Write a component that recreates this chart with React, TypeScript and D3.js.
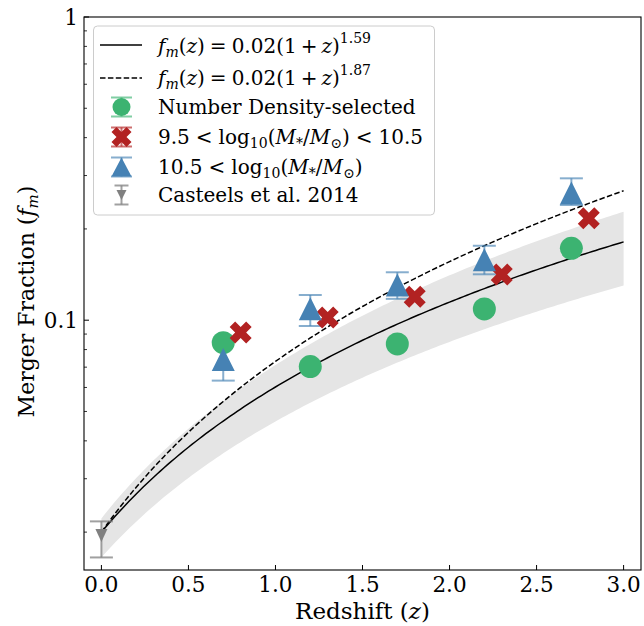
import React from "react";
import * as d3 from "d3";

// ---------- data ----------
const xTickValues = [0, 0.5, 1, 1.5, 2, 2.5, 3];
const yMajorTicks = [0.1, 1];
const yMinorTicks = [0.02, 0.03, 0.04, 0.05, 0.06, 0.07, 0.08, 0.09, 0.2, 0.3, 0.4, 0.5, 0.6, 0.7, 0.8, 0.9];

const fitNorm = 0.02;
const fitSlopeSolid = 1.59;
const fitSlopeDashed = 1.87;
// shaded uncertainty band edges (norm, slope)
const bandLowNorm = 0.0165;
const bandLowSlope = 1.49;
const bandHighNorm = 0.0222;
const bandHighSlope = 1.68;

const zNumberDensity = [0.7, 1.2, 1.7, 2.2, 2.7];
const fNumberDensity = [0.0843, 0.0703, 0.0835, 0.1089, 0.1726];

const zLowMass = [0.8, 1.3, 1.8, 2.3, 2.8];
const fLowMass = [0.091, 0.102, 0.1196, 0.1415, 0.2168];

const zHighMass = [0.7, 1.2, 1.7, 2.2, 2.7];
const fHighMass = [0.0742, 0.109, 0.1306, 0.1583, 0.2627];
const errHighMassLow = [0.011, 0.0133, 0.013, 0.0166, 0.0228];
const errHighMassUp = [0.011, 0.0121, 0.0133, 0.0177, 0.031];

const zCasteels = [0];
const fCasteels = [0.0195];
const errCasteelsLow = [0.003];
const errCasteelsUp = [0.0022];

// ---------- layout ----------
const W = 644;
const H = 626;
const L = 84, R = 641, T = 17, B = 570;

const GREEN = "#3cb371";
const RED = "#b22222";
const BLUE = "#4682b4";
const GRAY = "#808080";
const FONT = "'DejaVu Serif', serif";

const x = d3.scaleLinear().domain([-0.1, 3.1]).range([L, R]);
const y = d3.scaleLog().domain([0.015, 1]).range([B, T]);

const zGrid = d3.range(0, 3.0001, 0.02);

function trianglePath(cx: number, cy: number, w: number, h: number, down = false) {
  const s = down ? -1 : 1;
  return `M${cx},${cy - (s * h) / 2}L${cx - w / 2},${cy + (s * h) / 2}L${cx + w / 2},${cy + (s * h) / 2}Z`;
}
function xPath(cx: number, cy: number, ms: number) {
  const k = ms / 4;
  const pts = [[-1, -2], [0, -1], [1, -2], [2, -1], [1, 0], [2, 1], [1, 2], [0, 1], [-1, 2], [-2, 1], [-1, 0], [-2, -1]];
  return "M" + pts.map(([a, b]) => `${cx + a * k},${cy + b * k}`).join("L") + "Z";
}

function ErrBar({ cx, y0, y1, cap, color, opacity, sw }: any) {
  return (
    <g stroke={color} strokeOpacity={opacity} strokeWidth={sw} fill="none">
      <line x1={cx} x2={cx} y1={y0} y2={y1} />
      <line x1={cx - cap / 2} x2={cx + cap / 2} y1={y0} y2={y0} />
      <line x1={cx - cap / 2} x2={cx + cap / 2} y1={y1} y2={y1} />
    </g>
  );
}

function FitLabel({ xx, yy, fs, sub, slope }: any) {
  return (
    <text x={xx} y={yy} fontSize={fs}>
      <tspan fontStyle="italic">f</tspan>
      <tspan fontStyle="italic" fontSize={sub} dy={4}>m</tspan>
      <tspan dy={-4}>(</tspan>
      <tspan fontStyle="italic">z</tspan>
      <tspan>)</tspan>
      <tspan dx={5}>=</tspan>
      <tspan dx={5}>0.02(1</tspan>
      <tspan dx={4}>+</tspan>
      <tspan dx={4} fontStyle="italic">z</tspan>
      <tspan>)</tspan>
      <tspan fontSize={sub} dy={-10}>{slope}</tspan>
    </text>
  );
}

function MassLabel({ xx, yy, fs, sub, lo, hi }: any) {
  return (
    <text x={xx} y={yy} fontSize={fs}>
      <tspan>{lo}</tspan>
      <tspan dx={6}>&lt;</tspan>
      <tspan dx={6}>log</tspan>
      <tspan fontSize={sub} dy={4}>10</tspan>
      <tspan dy={-4}>(</tspan>
      <tspan fontStyle="italic">M</tspan>
      <tspan fontSize={sub} dy={4}>*</tspan>
      <tspan dy={-4}>/</tspan>
      <tspan fontStyle="italic">M</tspan>
      <tspan fontSize={sub} dy={4}>⊙</tspan>
      <tspan dy={-4}>)</tspan>
      {hi ? <tspan dx={6}>&lt;</tspan> : null}
      {hi ? <tspan dx={6}>{hi}</tspan> : null}
    </text>
  );
}

export default function App() {
  const line = d3.line<number>();
  const solid = line(zGrid.map((z) => [x(z), y(fitNorm * Math.pow(1 + z, fitSlopeSolid))] as any) as any);
  const dashed = line(zGrid.map((z) => [x(z), y(fitNorm * Math.pow(1 + z, fitSlopeDashed))] as any) as any);
  const area = d3
    .area<number>()
    .x((z) => x(z))
    .y0((z) => y(bandLowNorm * Math.pow(1 + z, bandLowSlope)))
    .y1((z) => y(bandHighNorm * Math.pow(1 + z, bandHighSlope)))(zGrid);

  const legX = 93.5, legY = 26, legW = 341, legH = 189;
  const hx = 121.5;
  const tx = 158;
  const rowY = [45, 78, 107, 137, 167, 195];
  const fs = 20;
  const sub = 14;
  const tickFs = 21.5;
  const labFs = 23;

  return (
    <svg width={W} height={H} style={{ position: "absolute", left: 0, top: 0 }} fontFamily={FONT}>
      <rect x={0} y={0} width={W} height={H} fill="white" />
      <defs>
        <clipPath id="plotclip">
          <rect x={L} y={T} width={R - L} height={B - T} />
        </clipPath>
      </defs>
      <g clipPath="url(#plotclip)">
        <path d={area || ""} fill="#e5e5e5" />
        <path d={solid || ""} fill="none" stroke="black" strokeWidth={1.5} />
        <path d={dashed || ""} fill="none" stroke="black" strokeWidth={1.5} strokeDasharray="5.5,2.4" />

        {/* error bars (beneath markers) */}
        {zHighMass.map((z, i) => (
          <ErrBar key={"eb" + i} cx={x(z)} y0={y(fHighMass[i] + errHighMassUp[i])} y1={y(fHighMass[i] - errHighMassLow[i])} cap={23} color={BLUE} opacity={0.65} sw={2} />
        ))}
        {zCasteels.map((z, i) => (
          <ErrBar key={"ec" + i} cx={x(z)} y0={y(fCasteels[i] + errCasteelsUp[i])} y1={y(fCasteels[i] - errCasteelsLow[i])} cap={23} color={GRAY} opacity={0.75} sw={2} />
        ))}

        {zNumberDensity.map((z, i) => (
          <circle key={"nd" + i} cx={x(z)} cy={y(fNumberDensity[i])} r={11.5} fill={GREEN} />
        ))}
        {zLowMass.map((z, i) => (
          <path key={"lm" + i} d={xPath(x(z), y(fLowMass[i]), 22)} fill={RED} />
        ))}
        {zHighMass.map((z, i) => (
          <path key={"hm" + i} d={trianglePath(x(z), y(fHighMass[i]), 23, 23)} fill={BLUE} />
        ))}
        {zCasteels.map((z, i) => (
          <path key={"cs" + i} d={trianglePath(x(z), y(fCasteels[i]), 12, 13, true)} fill={GRAY} />
        ))}
      </g>

      {/* frame */}
      <rect x={L} y={T} width={R - L} height={B - T} fill="none" stroke="black" strokeWidth={1.1} />

      {/* x ticks */}
      {xTickValues.map((v) => (
        <g key={"xt" + v}>
          <line x1={x(v)} x2={x(v)} y1={B} y2={B - 5} stroke="black" strokeWidth={1} />
          <text x={x(v)} y={592} fontSize={tickFs} textAnchor="middle">{d3.format(".1f")(v)}</text>
        </g>
      ))}
      {/* y ticks */}
      {yMajorTicks.map((v) => (
        <g key={"yt" + v}>
          <line x1={L} x2={L + 5} y1={y(v)} y2={y(v)} stroke="black" strokeWidth={1} />
          <text x={L - 6} y={y(v)} dy="0.36em" fontSize={tickFs} textAnchor="end">{v === 1 ? "1" : String(v)}</text>
        </g>
      ))}
      {yMinorTicks.map((v) => (
        <line key={"ym" + v} x1={L} x2={L + 3} y1={y(v)} y2={y(v)} stroke="black" strokeWidth={0.8} />
      ))}

      {/* axis labels */}
      <text x={(L + R) / 2} y={619} fontSize={labFs} textAnchor="middle">
        Redshift (<tspan fontStyle="italic">z</tspan>)
      </text>
      <text transform={`translate(34, ${(T + B) / 2 + 8}) rotate(-90)`} fontSize={22} textAnchor="middle">
        Merger Fraction (<tspan fontStyle="italic">f</tspan>
        <tspan fontStyle="italic" fontSize={15} dy={4}>m</tspan>
        <tspan dy={-4}>)</tspan>
      </text>

      {/* legend */}
      <rect x={legX} y={legY} width={legW} height={legH} rx={4} fill="white" fillOpacity={0.8} stroke="#cccccc" strokeWidth={1} />
      <line x1={100} x2={142} y1={rowY[0]} y2={rowY[0]} stroke="black" strokeWidth={1.5} />
      <line x1={100} x2={142} y1={rowY[1]} y2={rowY[1]} stroke="black" strokeWidth={1.5} strokeDasharray="5.5,2.4" />

      <ErrBar cx={hx} y0={rowY[2] - 9.5} y1={rowY[2] + 9.5} cap={21} color={GREEN} opacity={0.65} sw={2} />
      <circle cx={hx} cy={rowY[2]} r={9} fill={GREEN} />
      <ErrBar cx={hx} y0={rowY[3] - 9.5} y1={rowY[3] + 9.5} cap={21} color={RED} opacity={0.65} sw={2} />
      <path d={xPath(hx, rowY[3], 20)} fill={RED} />
      <ErrBar cx={hx} y0={rowY[4] - 9.5} y1={rowY[4] + 9.5} cap={21} color={BLUE} opacity={0.65} sw={2} />
      <path d={trianglePath(hx, rowY[4], 20, 19)} fill={BLUE} />
      <ErrBar cx={hx} y0={rowY[5] - 9.5} y1={rowY[5] + 9.5} cap={14} color={GRAY} opacity={0.75} sw={2} />
      <path d={trianglePath(hx, rowY[5], 10, 10, true)} fill={GRAY} />

      <FitLabel xx={tx} yy={rowY[0] + 8} fs={fs} sub={sub} slope="1.59" />
      <FitLabel xx={tx} yy={rowY[1] + 7} fs={fs} sub={sub} slope="1.87" />
      <text x={tx} y={rowY[2] + 6.5} fontSize={fs}>Number Density-selected</text>
      <MassLabel xx={tx} yy={rowY[3] + 6.5} fs={fs} sub={sub} lo="9.5" hi="10.5" />
      <MassLabel xx={tx} yy={rowY[4] + 6.5} fs={fs} sub={sub} lo="10.5" hi={null} />
      <text x={tx} y={rowY[5] + 7} fontSize={fs}>Casteels et al. 2014</text>
    </svg>
  );
}
